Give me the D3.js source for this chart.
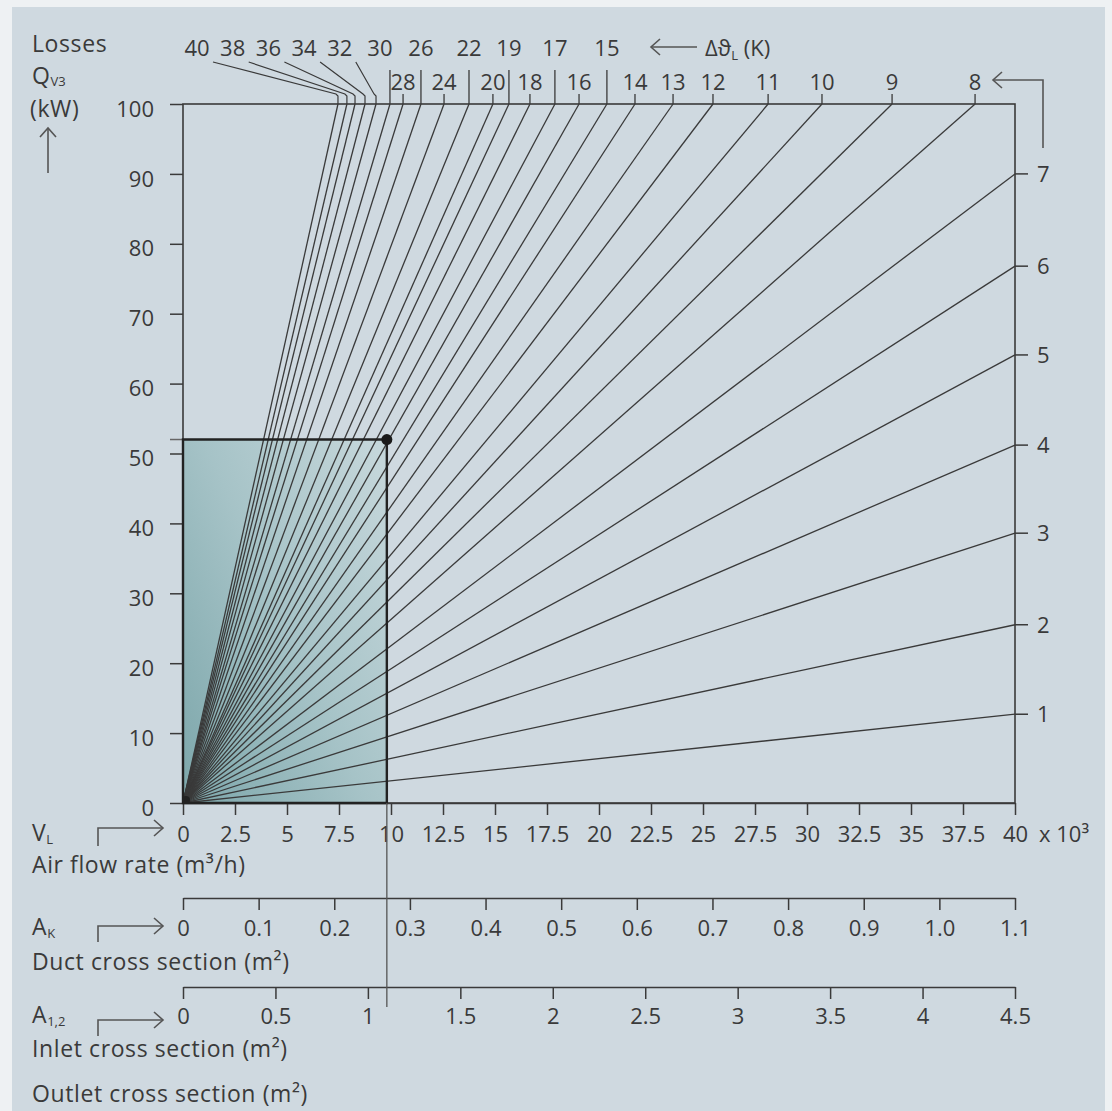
<!DOCTYPE html>
<html>
<head>
<meta charset="utf-8">
<script src="https://cdn.jsdelivr.net/npm/d3@7"></script>
<style>
  body { margin: 0; background: #fff; }
  svg { display: block; font-family: "Open Sans", sans-serif; }
</style>
</head>
<body>
<svg id="chart" width="1112" height="1111"></svg>
<script>
// Δϑ lines that run out at the top edge (100 kW), and the air flow where they do (10³ m³/h)
const topDelta = [40, 38, 36, 34, 32, 30, 28, 26, 24, 22, 20, 19, 18, 17, 16, 15, 14, 13, 12, 11, 10, 9, 8]
const topFlow = [7.45, 7.88, 8.27, 8.75, 9.28, 9.95, 10.58, 11.44, 12.55, 13.75, 14.9, 15.67, 16.68, 17.88, 19.04, 20.38, 21.73, 23.56, 25.48, 28.13, 30.72, 34.09, 38.08]
// Δϑ lines that run out at the right edge (40·10³ m³/h), and the losses there (kW)
const rightDelta = [7, 6, 5, 4, 3, 2, 1]
const rightLoss = [90.0, 76.8, 64.1, 51.2, 38.6, 25.5, 12.7]
// which top labels sit on leaders / on the upper row
const leaderDelta = [40, 38, 36, 34, 32]
const upperDelta = [30, 26, 22, 19, 17, 15]

const lossTicks = [0, 10, 20, 30, 40, 50, 60, 70, 80, 90, 100]
const flowTicks = [0, 2.5, 5, 7.5, 10, 12.5, 15, 17.5, 20, 22.5, 25, 27.5, 30, 32.5, 35, 37.5, 40]
const ductTicks = [0, 0.1, 0.2, 0.3, 0.4, 0.5, 0.6, 0.7, 0.8, 0.9, 1.0, 1.1]
const inletTicks = [0, 0.5, 1, 1.5, 2, 2.5, 3, 3.5, 4, 4.5]

// worked example: operating point
const pointFlow = 9.8
const pointLoss = 52

const ink = "#3a3a3a"
const svg = d3.select("#chart")

// background panel
svg.append("rect").attr("width", 1112).attr("height", 1111).attr("fill", "#eef1f3")
svg.append("rect").attr("x", 12).attr("y", 7).attr("width", 1093).attr("height", 1104).attr("fill", "#cfd9e0")

// scales
const x = d3.scaleLinear().domain([0, 40]).range([183, 1015])
const y = d3.scaleLinear().domain([0, 100]).range([803, 104])
const xDuct = d3.scaleLinear().domain([0, 1.1]).range([183, 1015])
const xInlet = d3.scaleLinear().domain([0, 4.5]).range([183, 1015])

// gradient for the highlighted area
const defs = svg.append("defs")
const grad = defs.append("linearGradient").attr("id", "area")
  .attr("x1", 0).attr("y1", 0.9).attr("x2", 1).attr("y2", 0.1)
grad.append("stop").attr("offset", "0%").attr("stop-color", "#80a9ad")
grad.append("stop").attr("offset", "50%").attr("stop-color", "#a6c3c7")
grad.append("stop").attr("offset", "100%").attr("stop-color", "#c4d6da")

svg.append("rect")
  .attr("x", x(0)).attr("y", y(pointLoss))
  .attr("width", x(pointFlow) - x(0)).attr("height", y(0) - y(pointLoss))
  .attr("fill", "url(#area)")

// fan of Δϑ lines from the origin
const fan = topDelta.map((d, i) => ({ d, fx: topFlow[i], q: 100 }))
  .concat(rightDelta.map((d, i) => ({ d, fx: 40, q: rightLoss[i] })))

svg.append("g").selectAll("line").data(fan).enter().append("line")
  .attr("x1", x(0)).attr("y1", y(0))
  .attr("x2", (d) => x(d.fx)).attr("y2", (d) => y(d.q))
  .attr("stroke", ink).attr("stroke-width", 1.3)

// frame
svg.append("rect")
  .attr("x", x(0)).attr("y", y(100))
  .attr("width", x(40) - x(0)).attr("height", y(0) - y(100))
  .attr("fill", "none").attr("stroke", ink).attr("stroke-width", 1.6)

// left axis
const yAxis = svg.append("g").attr("transform", `translate(${x(0)},0)`)
  .call(d3.axisLeft(y).tickValues(lossTicks).tickSize(13).tickSizeOuter(0).tickPadding(16))
yAxis.select(".domain").remove()
yAxis.selectAll("line").attr("stroke", ink).attr("stroke-width", 1.5)
yAxis.selectAll("text").attr("fill", ink).attr("font-size", 22).attr("font-family", "Open Sans")
  .attr("dy", "0.55em")

// helper for bottom scales
function bottomAxis(scale, ticks, yPos, fmt, labelY) {
  const g = svg.append("g").attr("transform", `translate(0,${yPos})`)
    .call(d3.axisBottom(scale).tickValues(ticks).tickSize(12).tickSizeOuter(0).tickFormat(fmt))
  g.select(".domain").attr("stroke", ink).attr("stroke-width", 1.6)
  g.selectAll("line").attr("stroke", ink).attr("stroke-width", 1.5)
  g.selectAll("text").attr("fill", ink).attr("font-size", 22).attr("font-family", "Open Sans")
    .attr("dy", null).attr("y", labelY)
  return g
}

bottomAxis(x, flowTicks, y(0), (d) => String(d), 39)
bottomAxis(xDuct, ductTicks, 898, (d) => (d === 0 ? "0" : d.toFixed(1)), 38)
bottomAxis(xInlet, inletTicks, 987, (d) => String(d), 37)

// right scale labels 1..7
const rightG = svg.append("g")
rightG.selectAll("line").data(rightDelta).enter().append("line")
  .attr("x1", x(40)).attr("x2", x(40) + 13)
  .attr("y1", (d, i) => y(rightLoss[i])).attr("y2", (d, i) => y(rightLoss[i]))
  .attr("stroke", ink).attr("stroke-width", 1.5)
rightG.selectAll("text").data(rightDelta).enter().append("text")
  .attr("x", x(40) + 22).attr("y", (d, i) => y(rightLoss[i]) + 8)
  .attr("font-size", 22).attr("fill", ink).text((d) => d)

// top scale labels
const topG = svg.append("g").attr("font-size", 22).attr("fill", ink).attr("text-anchor", "middle")
topDelta.forEach((d, i) => {
  const tx = x(topFlow[i])
  const li = leaderDelta.indexOf(d)
  if (li >= 0) {
    const lx = 197 + li * 35.7
    topG.append("text").attr("x", lx).attr("y", 56).text(d)
    topG.append("polyline")
      .attr("points", `${lx + 16},62 ${tx - 2},94 ${tx},96 ${tx},${y(100)}`)
      .attr("fill", "none").attr("stroke", ink).attr("stroke-width", 1.2)
  } else if (upperDelta.includes(d)) {
    topG.append("text").attr("x", tx + (d === 30 ? -10 : 0)).attr("y", 56).text(d)
    topG.append("line").attr("x1", tx).attr("x2", tx).attr("y1", 70).attr("y2", y(100))
      .attr("stroke", ink).attr("stroke-width", 1.3)
  } else {
    topG.append("text").attr("x", tx).attr("y", 90).text(d)
    topG.append("line").attr("x1", tx).attr("x2", tx).attr("y1", 94).attr("y2", y(100))
      .attr("stroke", ink).attr("stroke-width", 1.3)
  }
})

// arrows
const arrowInk = "#555"
function chevron(px, py, dir) {
  let pts
  if (dir === "left") pts = `${px + 9},${py - 8} ${px},${py} ${px + 9},${py + 8}`
  else if (dir === "right") pts = `${px - 9},${py - 8} ${px},${py} ${px - 9},${py + 8}`
  else pts = `${px - 8},${py + 9} ${px},${py} ${px + 8},${py + 9}`
  svg.append("polyline").attr("points", pts).attr("fill", "none")
    .attr("stroke", arrowInk).attr("stroke-width", 1.6)
}
svg.append("path").attr("d", "M1043,148V80H993").attr("fill", "none")
  .attr("stroke", arrowInk).attr("stroke-width", 1.6)
chevron(993, 80, "left")
svg.append("path").attr("d", "M697,47H651").attr("fill", "none")
  .attr("stroke", arrowInk).attr("stroke-width", 1.6)
chevron(651, 47, "left")
svg.append("path").attr("d", "M48,173V128").attr("fill", "none")
  .attr("stroke", arrowInk).attr("stroke-width", 1.6)
chevron(48, 128, "up")
;[[846, 828], [942, 926], [1036, 1020]].forEach(([y0, y1]) => {
  svg.append("path").attr("d", `M98,${y0}V${y1}H163`).attr("fill", "none")
    .attr("stroke", arrowInk).attr("stroke-width", 1.6)
  chevron(163, y1, "right")
})

// texts
const txt = svg.append("g").attr("font-size", 23).attr("fill", ink).attr("letter-spacing", 0.6)
txt.append("text").attr("x", 32).attr("y", 52).text("Losses")
const q = txt.append("text").attr("x", 32).attr("y", 84)
q.append("tspan").text("Q")
q.append("tspan").attr("font-size", 13).attr("dy", 2).attr("letter-spacing", 0).text("V3")
txt.append("text").attr("x", 30).attr("y", 117).text("(kW)")

const dt = txt.append("text").attr("x", 705).attr("y", 56).attr("font-size", 22).attr("letter-spacing", 0)
dt.append("tspan").text("Δϑ")
dt.append("tspan").attr("font-size", 13).attr("dy", 4).text("L")
dt.append("tspan").attr("dy", -4).text(" (K)")

txt.append("text").attr("x", x(40) + 24).attr("y", 842).attr("font-size", 22).attr("letter-spacing", 0).text("x 10³")

const vl = txt.append("text").attr("x", 32).attr("y", 841)
vl.append("tspan").text("V")
vl.append("tspan").attr("font-size", 13).attr("dy", 3).text("L")
txt.append("text").attr("x", 32).attr("y", 873).text("Air flow rate (m³/h)")

const ak = txt.append("text").attr("x", 32).attr("y", 935)
ak.append("tspan").text("A")
ak.append("tspan").attr("font-size", 13).attr("dy", 3).text("K")
txt.append("text").attr("x", 32).attr("y", 970).text("Duct cross section (m²)")

const a12 = txt.append("text").attr("x", 32).attr("y", 1023)
a12.append("tspan").text("A")
a12.append("tspan").attr("font-size", 13).attr("dy", 3).attr("letter-spacing", 0).text("1,2")
txt.append("text").attr("x", 32).attr("y", 1057).text("Inlet cross section (m²)")
txt.append("text").attr("x", 32).attr("y", 1102).text("Outlet cross section (m²)")

// operating point: box edges, reference lines and dot
svg.append("line")
  .attr("x1", 170).attr("x2", x(0)).attr("y1", y(pointLoss)).attr("y2", y(pointLoss))
  .attr("stroke", "#666").attr("stroke-width", 1.5)
svg.append("path")
  .attr("d", `M${x(0)},${y(pointLoss)}H${x(pointFlow)}V${y(0)}H${x(0)}Z`)
  .attr("fill", "none").attr("stroke", "#222").attr("stroke-width", 2.4)
svg.append("line")
  .attr("x1", x(pointFlow)).attr("x2", x(pointFlow)).attr("y1", y(0)).attr("y2", 1007)
  .attr("stroke", "#555").attr("stroke-width", 1.3)
svg.append("circle").attr("cx", x(pointFlow)).attr("cy", y(pointLoss)).attr("r", 5.5).attr("fill", "#1a1a1a")
svg.append("circle").attr("cx", x(0) + 3).attr("cy", y(0) - 3).attr("r", 4).attr("fill", "#222")
</script>
</body>
</html>
